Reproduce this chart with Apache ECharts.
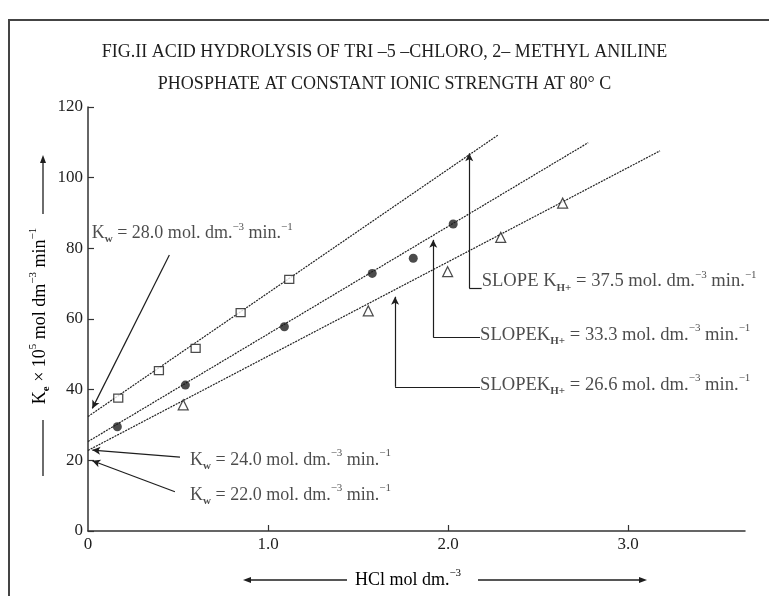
<!DOCTYPE html>
<html><head><meta charset="utf-8">
<script src="https://cdn.jsdelivr.net/npm/echarts@6/dist/echarts.min.js"></script>
<style>html,body{margin:0;padding:0;background:#fff}#c{width:769px;height:596px}</style>
</head><body><div id="c"></div>
<script>
// ---- data ----
const xTickValues = [1, 2, 3];
const xLabelValues = [0, 1, 2, 3];
const xTickLabels = ['0', '1.0', '2.0', '3.0'];
const yTickLabels = ['0', '20', '40', '60', '80', '100', '120'];

const openSquares = [[0.168, 37.6], [0.394, 45.4], [0.598, 51.7], [0.848, 61.8], [1.118, 71.2]];
const filledPoints = [[0.163, 29.5], [0.541, 41.3], [1.091, 57.8], [1.579, 72.9], [1.807, 77.2], [2.029, 86.9]];
const openTriangles = [[0.529, 35.7], [1.557, 62.3], [1.998, 73.4], [2.293, 83.1], [2.637, 92.8]];

const fitLine1 = [[0, 32.4], [2.279, 112.1]];
const fitLine2 = [[0, 25.3], [2.779, 109.9]];
const fitLine3 = [[0, 22.8], [3.178, 107.6]];

const kwValues = ['28.0', '24.0', '22.0'];
const slopeValues = ['37.5', '33.3', '26.6'];

// annotation anchors (data units)
const kwPointerFrom = [[0.452, 78.1], [0.511, 20.9], [0.483, 11.1]];
const kwPointerTip = [[0.024, 34.7], [0.024, 22.9], [0.024, 19.9]];
const kwLabelAt = [[0.021, 84.3], [0.567, 20.1], [0.567, 10.2]];
const slopeTip = [[2.118, 106.9], [1.918, 82.4], [1.706, 66.3]];
const slopeCorner = [[2.118, 68.7], [1.918, 54.8], [1.706, 40.8]];
const slopeLabelAt = [[2.187, 70.7], [2.178, 55.5], [2.178, 41.3]];
const slopePrefix = ['SLOPE K', 'SLOPEK', 'SLOPEK'];

// ---- chart ----
const FONT = 'Liberation Serif';
const INK = '#1e1e1e';
function makeRich(size) {
  return {
    n: { fontFamily: FONT, fontSize: size, color: INK, lineHeight: 24 },
    sub: { fontFamily: FONT, fontSize: 11, fontWeight: 'bold', color: INK, verticalAlign: 'bottom', lineHeight: 13 },
    sup: { fontFamily: FONT, fontSize: 11, color: INK, verticalAlign: 'top', lineHeight: 13 }
  };
}
const rich = makeRich(18);
const richSlope = makeRich(18.6);

const labelData = [];
kwValues.forEach((v, i) => {
  labelData.push({ value: kwLabelAt[i], label: { rich: rich,
    formatter: '{n|K}{sub|w}{n| = ' + v + ' mol. dm.}{sup|−3}{n| min.}{sup|−1}' } });
});
slopeValues.forEach((v, i) => {
  labelData.push({ value: slopeLabelAt[i], label: { rich: richSlope,
    formatter: '{n|' + slopePrefix[i] + '}{sub|H+}{n| = ' + v + ' mol. dm.}{sup|−3}{n| min.}{sup|−1}' } });
});

const markLines = [];
kwPointerFrom.forEach((p, i) => {
  markLines.push([{ coord: p, symbol: 'none' }, { coord: kwPointerTip[i], symbol: 'arrow' }]);
});
slopeTip.forEach((t, i) => {
  markLines.push([{ coord: slopeCorner[i], symbol: 'none' }, { coord: t, symbol: 'arrow' }]);
  markLines.push([{ coord: slopeCorner[i], symbol: 'none' }, { coord: [slopeLabelAt[i][0], slopeCorner[i][1]], symbol: 'none' }]);
});

function fitSeries(d) {
  return { type: 'line', data: d, symbol: 'none', silent: true, z: 2,
    lineStyle: { color: '#222', width: 1.2, type: [2, 1] } };
}

function arrowHead(x, y, dir) {
  let pts;
  if (dir === 'up') pts = [[x, y], [x - 3, y + 8], [x + 3, y + 8]];
  else if (dir === 'left') pts = [[x, y], [x + 8, y - 3], [x + 8, y + 3]];
  else pts = [[x, y], [x - 8, y - 3], [x - 8, y + 3]];
  return { type: 'polygon', shape: { points: pts }, style: { fill: INK } };
}
function seg(x1, y1, x2, y2, w, c) {
  return { type: 'line', shape: { x1, y1, x2, y2 }, style: { stroke: c || INK, lineWidth: w || 1.3 } };
}

const chart = echarts.init(document.getElementById('c'), null, { renderer: 'canvas' });
chart.setOption({
  animation: false,
  backgroundColor: '#fff',
  title: {
    text: 'FIG.II ACID HYDROLYSIS OF TRI –5 –CHLORO, 2– METHYL ANILINE\nPHOSPHATE AT CONSTANT IONIC STRENGTH AT 80° C',
    left: 'center', top: 31,
    textStyle: { fontFamily: FONT, fontSize: 18, fontWeight: 'normal', color: INK, lineHeight: 32 }
  },
  grid: { left: 88, top: 107, width: 657, height: 424, containLabel: false },
  xAxis: {
    type: 'value', min: 0, max: 3.65,
    axisLine: { show: true, lineStyle: { color: '#333', width: 1.5 } },
    axisTick: { show: true, inside: true, length: 6, customValues: xTickValues, lineStyle: { color: '#333', width: 1.2 } },
    axisLabel: { customValues: xLabelValues, margin: 5, fontFamily: FONT, fontSize: 17, color: INK,
      formatter: v => xTickLabels[xLabelValues.indexOf(Math.round(v))] },
    splitLine: { show: false }
  },
  yAxis: {
    type: 'value', min: 0, max: 120, interval: 20,
    axisLine: { show: true, lineStyle: { color: '#333', width: 1.5 } },
    axisTick: { show: true, inside: true, length: 6, lineStyle: { color: '#333', width: 1.2 } },
    axisLabel: { margin: 5, fontFamily: FONT, fontSize: 17, color: INK,
      formatter: v => yTickLabels[Math.round(v / 20)] },
    splitLine: { show: false }
  },
  series: [
    fitSeries(fitLine1), fitSeries(fitLine2), fitSeries(fitLine3),
    { type: 'scatter', data: openSquares, symbol: 'rect', symbolSize: [9, 8], z: 3,
      itemStyle: { color: '#fff', borderColor: INK, borderWidth: 1.2 } },
    { type: 'scatter', data: filledPoints, symbol: 'circle', symbolSize: 9, z: 3,
      itemStyle: { color: INK } },
    { type: 'scatter', data: openTriangles, symbol: 'triangle', symbolSize: 10, z: 3,
      itemStyle: { color: '#fff', borderColor: INK, borderWidth: 1.2 } },
    { type: 'scatter', data: labelData, symbolSize: 0, silent: true, z: 4,
      label: { show: true, position: 'right', distance: 0 },
      markLine: { silent: true, animation: false, symbolSize: [6, 8], data: markLines,
        label: { show: false }, lineStyle: { color: INK, width: 1.2, type: 'solid' } } }
  ],
  graphic: [
    seg(9, 20, 9, 596, 2, '#444'), seg(8, 20, 769, 20, 2, '#444'),
    { type: 'text', x: 40, y: 316, rotation: Math.PI / 2,
      style: { text: '{n|K}{sub|e}{n| × 10}{sup|5}{n| mol dm}{sup|−3}{n| min}{sup|−1}', rich: rich, align: 'center', verticalAlign: 'middle' } },
    seg(43, 214, 43, 162), arrowHead(43, 155, 'up'), seg(43, 420, 43, 476),
    { type: 'text', x: 408, y: 580,
      style: { text: '{n|HCl mol dm.}{sup|−3}', rich: rich, align: 'center', verticalAlign: 'middle' } },
    seg(347, 580, 250, 580), arrowHead(243, 580, 'left'), seg(478, 580, 640, 580), arrowHead(647, 580, 'right')
  ]
});
</script>
</body></html>
